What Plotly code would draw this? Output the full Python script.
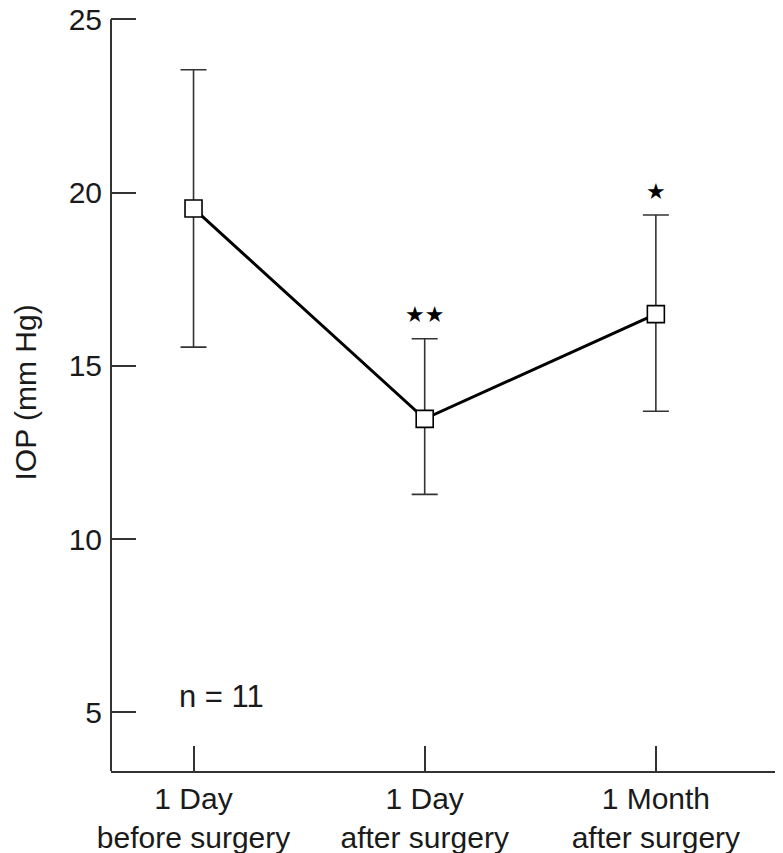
import plotly.graph_objects as go

# ---------------------------------------------------------------------------
# Data
# ---------------------------------------------------------------------------
categories = ["1 Day<br>before surgery", "1 Day<br>after surgery", "1 Month<br>after surgery"]
iop_mean = [19.54, 13.47, 16.49]
err_plus = [4.00, 2.31, 2.86]
err_minus = [4.00, 2.18, 2.80]
sig_marks = ["", "★★", "★"]
y_ticks = [5, 10, 15, 20, 25]

Y_MIN, Y_MAX = 3.31, 25

FONT = "Liberation Sans, Arial, sans-serif"
INK = "#1a1a1a"
AXIS = "#333333"

x_pos = list(range(len(categories)))

fig = go.Figure()

fig.add_trace(go.Scatter(
    x=x_pos, y=iop_mean,
    mode="lines+markers",
    line=dict(color="black", width=3),
    marker=dict(symbol="square", size=17, color="white",
                line=dict(color="black", width=1.6)),
    error_y=dict(type="data", symmetric=False, array=err_plus,
                 arrayminus=err_minus, color=AXIS, thickness=1.6, width=13),
    showlegend=False,
))

# significance stars above the upper whiskers
for x, m, e, s in zip(x_pos, iop_mean, err_plus, sig_marks):
    if s:
        fig.add_annotation(
            x=x, y=m + e, text=s, showarrow=False,
            yshift=24, font=dict(size=22, color="black", family="DejaVu Sans"),
        )

fig.add_annotation(
    x=0.12, y=5.45, xref="x", yref="y", text="n = 11", showarrow=False,
    xanchor="center", font=dict(size=31, color=INK, family=FONT),
)

# y-axis title placed by hand
fig.add_annotation(
    x=0, y=0.5, xref="paper", yref="paper", text="IOP (mm Hg)",
    showarrow=False, textangle=-90, xanchor="center", yanchor="middle",
    xshift=-86, font=dict(size=30, family=FONT, color=INK),
)

# y-axis line stops at the top tick
fig.add_shape(type="line", xref="paper", yref="y", x0=0, x1=0,
              y0=Y_MIN, y1=Y_MAX, line=dict(color=AXIS, width=2))

# page body has an 8px margin, so the figure is shrunk to fit the window
fig.update_layout(
    width=775, height=845,
    margin=dict(l=103, r=0, t=6, b=82),
    plot_bgcolor="white",
    paper_bgcolor="white",
    font=dict(family=FONT, color=INK, size=30),
    xaxis=dict(
        range=[-0.357, 2.55],
        tickvals=x_pos, ticktext=categories,
        showline=True, linecolor=AXIS, linewidth=2,
        ticks="inside", ticklen=25, tickwidth=1.6, tickcolor=AXIS,
        showgrid=False, zeroline=False, automargin=False,
        tickfont=dict(size=30, family=FONT, color=INK),
    ),
    yaxis=dict(
        range=[Y_MIN, Y_MAX + 0.15],
        tickvals=y_ticks,
        showline=False,
        ticks="inside", ticklen=25, tickwidth=1.6, tickcolor=AXIS,
        showgrid=False, zeroline=False, automargin=False,
        ticklabeloverflow="allow", ticklabelstandoff=8,
        tickfont=dict(size=30, family=FONT, color=INK),
    ),
)

fig.write_html("out.html")
